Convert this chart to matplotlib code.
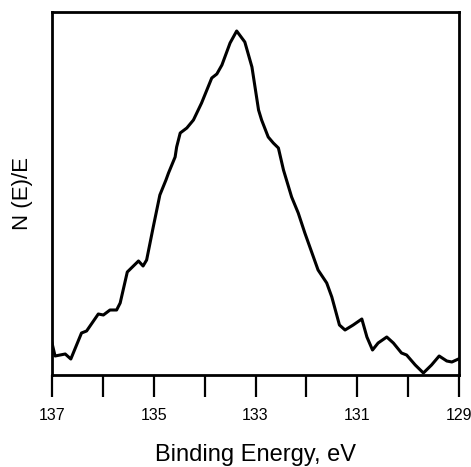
import matplotlib
matplotlib.use("Agg")
import matplotlib.pyplot as plt
from matplotlib.ticker import MultipleLocator

plt.rcParams['font.family'] = ['Liberation Sans', 'DejaVu Sans']

binding_energy = [137.00, 136.94, 136.74, 136.63, 136.42, 136.32, 136.09, 135.99, 135.86,
                  135.73, 135.66, 135.52, 135.30, 135.21, 135.14, 135.01, 134.88, 134.76,
                  134.71, 134.58, 134.55, 134.48, 134.35, 134.22, 134.06, 133.86, 133.76,
                  133.66, 133.50, 133.37, 133.21, 133.07, 132.94, 132.88, 132.75, 132.65,
                  132.55, 132.45, 132.29, 132.16, 132.03, 131.77, 131.60, 131.50, 131.35,
                  131.24, 131.08, 130.91, 130.81, 130.70, 130.59, 130.42, 130.29, 130.13,
                  130.03, 129.86, 129.70, 129.54, 129.39, 129.24, 129.14, 129.01]
intensity = [32, 19, 21, 16, 42, 44, 61, 60, 65,
             65, 72, 103, 114, 109, 115, 148, 180, 195,
             202, 218, 228, 242, 247, 255, 272, 297, 301,
             310, 332, 344, 333, 308, 265, 255, 238, 232,
             227, 205, 178, 162, 142, 105, 92, 78, 50,
             45, 50, 56, 38, 25, 32, 38, 32, 22,
             20, 10, 2, 10, 19, 14, 13, 16]
major_ticks = [137, 135, 133, 131, 129]
tick_labels = ["137", "135", "133", "131", "129"]

fig = plt.figure(figsize=(4.71, 4.67), dpi=100)
ax = fig.add_axes([52/471, (467-375)/467, (459-52)/471, (375-12)/467])
ax.plot(binding_energy, intensity, color='black', lw=2.2, solid_joinstyle='round')
ax.set_xlim(137, 129)
ax.set_ylim(0, 363)
ax.set_xticks(major_ticks)
ax.set_xticklabels(tick_labels, fontsize=11.5)
ax.xaxis.set_minor_locator(MultipleLocator(1))
ax.tick_params(axis='x', which='both', direction='out', length=16, width=1.6, pad=8)
ax.set_yticks([])
for s in ax.spines.values():
    s.set_linewidth(2)
ax.set_xlabel("Binding Energy, eV", fontsize=17, labelpad=15)
ax.set_ylabel("N (E)/E", fontsize=16, labelpad=14)
fig.savefig("out.png", dpi=100)
